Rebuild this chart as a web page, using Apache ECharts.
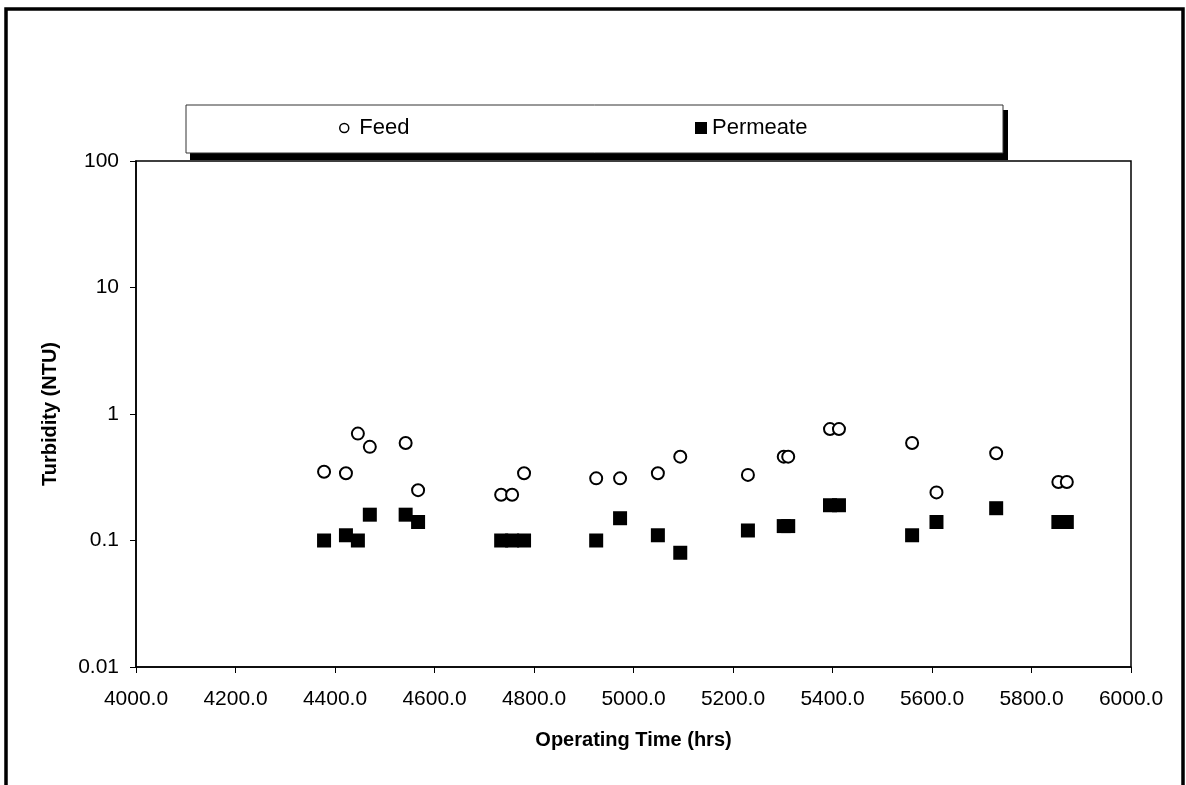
<!DOCTYPE html>
<html>
<head>
<meta charset="utf-8">
<script src="https://cdn.jsdelivr.net/npm/echarts@6/dist/echarts.min.js"></script>
<style>
  html, body { margin: 0; padding: 0; background: #fff; }
  #chart { width: 1186px; height: 785px; }
</style>
</head>
<body>
<div id="chart"></div>
<script>
// operating time (hrs) for each sampling
const sampleTime = [4378, 4422, 4446, 4470, 4542, 4567, 4734, 4756, 4780, 4925, 4973, 5049, 5094, 5230, 5302, 5311, 5395, 5413, 5560, 5609, 5729, 5854, 5871];
// turbidity (NTU)
const feedTurbidity = [0.35, 0.34, 0.70, 0.55, 0.59, 0.25, 0.23, 0.23, 0.34, 0.31, 0.31, 0.34, 0.46, 0.33, 0.46, 0.46, 0.76, 0.76, 0.59, 0.24, 0.49, 0.29, 0.29];
const permeateTurbidity = [0.10, 0.11, 0.10, 0.16, 0.16, 0.14, 0.10, 0.10, 0.10, 0.10, 0.15, 0.11, 0.08, 0.12, 0.13, 0.13, 0.19, 0.19, 0.11, 0.14, 0.18, 0.14, 0.14];
const yTickLabels = { '0.01': '0.01', '0.1': '0.1', '1': '1', '10': '10', '100': '100' };

const font = 'Arial, "Liberation Sans", sans-serif';
const chart = echarts.init(document.getElementById('chart'));

function pairs(ys) {
  return sampleTime.map((t, i) => [t, ys[i]]);
}

chart.setOption({
  animation: false,
  backgroundColor: '#fff',
  textStyle: { fontFamily: font, color: '#000' },
  graphic: [
    // outer frame
    { type: 'rect', z: 0, shape: { x: 6, y: 9, width: 1177, height: 800 },
      style: { fill: 'none', stroke: '#000', lineWidth: 3.5 } },
    // legend box shadow + box
    { type: 'rect', z: 1, shape: { x: 190, y: 110, width: 818, height: 50 },
      style: { fill: '#000' } },
    { type: 'rect', z: 2, shape: { x: 186, y: 105, width: 817, height: 48 },
      style: { fill: '#fff', stroke: '#333', lineWidth: 1 } }
  ],
  legend: [
    {
      left: 339, top: 117, z: 10, padding: 0,
      itemWidth: 20, itemHeight: 9,
      textStyle: { fontSize: 22, fontFamily: font, color: '#000' },
      data: [{ name: 'Feed', icon: 'circle',
        itemStyle: { color: '#fff', borderColor: '#000', borderWidth: 1.5 } }]
    },
    {
      left: 695, top: 117, z: 10, padding: 0,
      itemWidth: 12, itemHeight: 12,
      textStyle: { fontSize: 22, fontFamily: font, color: '#000' },
      data: [{ name: 'Permeate', icon: 'rect', itemStyle: { color: '#000' } }]
    }
  ],
  grid: {
    left: 136, right: 55, top: 161, bottom: 118,
    show: true, borderColor: '#000', borderWidth: 1.5,
    containLabel: false, outerBoundsMode: 'none'
  },
  xAxis: {
    type: 'value', min: 4000, max: 6000, interval: 200,
    name: 'Operating Time (hrs)', nameLocation: 'middle', nameGap: 63,
    nameTextStyle: { fontSize: 20, fontWeight: 'bold', fontFamily: font, color: '#000' },
    axisLine: { lineStyle: { color: '#000', width: 1.5 } },
    axisTick: { show: true, inside: false, length: 6, lineStyle: { color: '#000' } },
    axisLabel: { fontSize: 21, color: '#000', margin: 22, formatter: v => v.toFixed(1) },
    splitLine: { show: false }
  },
  yAxis: {
    type: 'log', logBase: 10, min: 0.01, max: 100,
    name: 'Turbidity (NTU)', nameLocation: 'middle', nameGap: 76, nameRotate: 90,
    nameTextStyle: { fontSize: 20, fontWeight: 'bold', fontFamily: font, color: '#000' },
    axisLine: { show: true, lineStyle: { color: '#000', width: 1.5 } },
    axisTick: { show: true, inside: false, length: 6, lineStyle: { color: '#000' } },
    axisLabel: { fontSize: 21, color: '#000', margin: 17,
      formatter: v => yTickLabels[String(+v.toPrecision(6))] ?? '' },
    splitLine: { show: false },
    minorTick: { show: false }
  },
  series: [
    {
      name: 'Feed', type: 'scatter', symbol: 'circle', symbolSize: 12,
      itemStyle: { color: '#fff', borderColor: '#000', borderWidth: 2, opacity: 1 },
      data: pairs(feedTurbidity)
    },
    {
      name: 'Permeate', type: 'scatter', symbol: 'rect', symbolSize: 14,
      itemStyle: { color: '#000', opacity: 1 },
      data: pairs(permeateTurbidity)
    }
  ]
});
</script>
</body>
</html>
